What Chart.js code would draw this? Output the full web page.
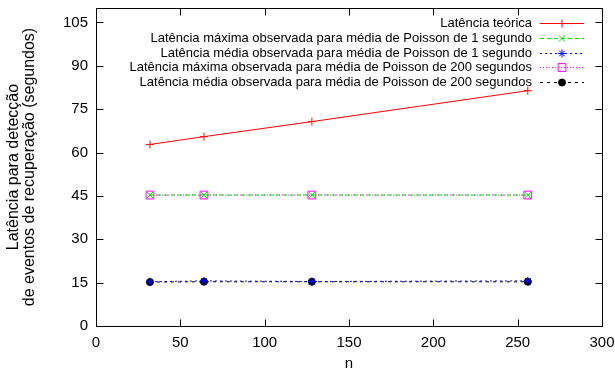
<!DOCTYPE html>
<html>
<head>
<meta charset="utf-8">
<script src="https://cdn.jsdelivr.net/npm/chart.js@4/dist/chart.umd.min.js"></script>
<style>
  body { margin: 0; background: #fff; }
  #wrap { width: 615px; height: 374px; }
</style>
</head>
<body>
<div id="wrap"><canvas id="latChart"></canvas></div>
<script>
const nValues = [32, 64, 128, 256];
const teorica = [62.8, 65.5, 70.7, 81.4];
const maxPoisson1 = [45.3, 45.3, 45.3, 45.3];
const mediaPoisson1 = [15.3, 15.6, 15.4, 15.6];
const maxPoisson200 = [45.3, 45.3, 45.3, 45.3];
const mediaPoisson200 = [15.2, 15.3, 15.3, 15.3];
const yTicks = [0, 15, 30, 45, 60, 75, 90, 105];
const xTicks = [0, 50, 100, 150, 200, 250, 300];

function pts(ys) { return nValues.map((x, i) => ({ x: x, y: ys[i] })); }

const FONT = 'Liberation Sans, Arial, sans-serif';

const series = [
    { label: 'Latência teórica', values: teorica, color: '#ff0000', fill: '#ff0000', style: 'cross', r: 4, dash: [] },
    { label: 'Latência máxima observada para média de Poisson de 1 segundo', values: maxPoisson1, color: '#00e000', fill: '#00e000', style: 'crossRot', r: 4.5, dash: [4, 3] },
    { label: 'Latência média observada para média de Poisson de 1 segundo', values: mediaPoisson1, color: '#0000ff', fill: '#0000ff', style: 'star', r: 4, dash: [2, 3] },
    { label: 'Latência máxima observada para média de Poisson de 200 segundos', values: maxPoisson200, color: '#ff00ff', fill: 'rgba(0,0,0,0)', style: 'rect', r: 5.5, dash: [1, 2] },
    { label: 'Latência média observada para média de Poisson de 200 segundos', values: mediaPoisson200, color: '#000000', fill: '#000000', style: 'circle', r: 3.5, dash: [3, 4] }
];

// frame with inward ticks on all four sides (gnuplot look)
const framePlugin = {
    id: 'frame',
    afterDraw(chart) {
        const ctx = chart.ctx;
        const a = chart.chartArea;
        const xs = chart.scales.x, ys = chart.scales.y;
        const L = Math.round(a.left) + 0.5, R = Math.round(a.right) + 0.5;
        const T = Math.round(a.top) + 0.5, B = Math.round(a.bottom) + 0.5;
        ctx.save();
        ctx.setLineDash([]);
        ctx.lineWidth = 1;
        ctx.strokeStyle = '#000000';
        ctx.beginPath();
        for (const v of xTicks) {
            const px = Math.round(xs.getPixelForValue(v)) + 0.5;
            ctx.moveTo(px, B); ctx.lineTo(px, B - 7);
            ctx.moveTo(px, T); ctx.lineTo(px, T + 7);
        }
        for (const v of yTicks) {
            const py = Math.round(ys.getPixelForValue(v)) + 0.5;
            ctx.moveTo(L, py); ctx.lineTo(L + 7, py);
            ctx.moveTo(R, py); ctx.lineTo(R - 7, py);
        }
        ctx.moveTo(L, T); ctx.lineTo(R, T); ctx.lineTo(R, B); ctx.lineTo(L, B); ctx.closePath();
        ctx.stroke();
        ctx.restore();
    }
};

// key inside the plot, text right-aligned with the sample on its right
const keyPlugin = {
    id: 'key',
    afterDraw(chart) {
        const ctx = chart.ctx;
        ctx.save();
        ctx.font = '13px ' + FONT;
        ctx.textAlign = 'right';
        ctx.textBaseline = 'middle';
        series.forEach((s, i) => {
            const y = Math.round(23 + i * 14.8) + 0.5;
            ctx.fillStyle = '#000';
            ctx.fillText(s.label, 532, y);
            ctx.lineWidth = 1;
            ctx.strokeStyle = s.color;
            ctx.setLineDash(s.dash);
            ctx.beginPath();
            ctx.moveTo(540, y); ctx.lineTo(584, y);
            ctx.stroke();
            ctx.setLineDash([]);
            ctx.fillStyle = s.fill;
            ctx.strokeStyle = s.color;
            Chart.helpers.drawPoint(ctx, { pointStyle: s.style, radius: s.r, rotation: 0, borderWidth: 1 }, 562, y);
        });
        ctx.restore();
    }
};

new Chart(document.getElementById('latChart'), {
    type: 'scatter',
    data: {
        datasets: series.map(s => ({
            label: s.label,
            data: pts(s.values),
            showLine: true,
            borderWidth: 1,
            borderColor: s.color,
            borderDash: s.dash,
            pointStyle: s.style,
            pointRadius: s.r,
            pointBorderWidth: 1,
            pointBorderColor: s.color,
            pointBackgroundColor: s.fill
        }))
    },
    options: {
        responsive: true,
        maintainAspectRatio: false,
        animation: false,
        layout: { padding: { top: 8, right: 13, left: 6, bottom: 0 } },
        plugins: { legend: { display: false }, tooltip: { enabled: false } },
        scales: {
            x: {
                type: 'linear', min: 0, max: 300,
                afterFit: s => { s.height = 48; s.paddingRight = 0; s.paddingLeft = 0; },
                afterBuildTicks: s => { s.ticks = xTicks.map(v => ({ value: v })); },
                grid: { display: false, drawTicks: false },
                border: { display: false },
                ticks: { color: '#000', font: { family: FONT, size: 15 }, padding: 8, maxRotation: 0 },
                title: { display: true, text: 'n', color: '#000', font: { family: FONT, size: 15 }, padding: { top: 0, bottom: 1 } }
            },
            y: {
                type: 'linear', min: 0, max: 110,
                afterFit: s => { s.width = 90; s.paddingTop = 0; s.paddingBottom = 0; },
                afterBuildTicks: s => { s.ticks = yTicks.map(v => ({ value: v })); },
                grid: { display: false, drawTicks: false },
                border: { display: false },
                ticks: { color: '#000', font: { family: FONT, size: 15 }, padding: 8 },
                title: { display: true, text: ['Latência para detecção', 'de eventos de recuperação (segundos)'],
                         color: '#000', font: { family: FONT, size: 16, lineHeight: 1.0 }, padding: { top: 0, bottom: 0 } }
            }
        }
    },
    plugins: [framePlugin, keyPlugin]
});
</script>
</body>
</html>
